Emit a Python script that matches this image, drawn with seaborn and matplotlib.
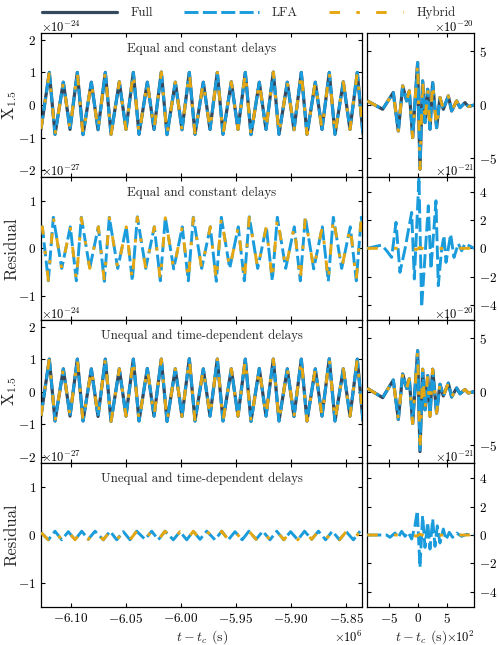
import matplotlib
matplotlib.use("Agg")
import numpy as np
import pandas as pd
import matplotlib.pyplot as plt
import matplotlib.axis as maxis
import seaborn as sns

# ---------------- data ----------------
# Left column: time in units of 1e6 s
t_x15 = [-6.12700, -6.11943, -6.11426, -6.10672, -6.10064, -6.09401, -6.08883, -6.08129,
         -6.07521, -6.06858, -6.06341, -6.05587, -6.04979, -6.04316, -6.03798, -6.03045,
         -6.02436, -6.01773, -6.01256, -6.00502, -5.99894, -5.99231, -5.98713, -5.97960,
         -5.97351, -5.96688, -5.96171, -5.95417, -5.94809, -5.94146, -5.93628, -5.92875,
         -5.92266, -5.91603, -5.91086, -5.90332, -5.89724, -5.89061, -5.88543, -5.87790,
         -5.87181, -5.86518, -5.86001, -5.85247, -5.84639, -5.83976, -5.83458]
# X_1.5 (x1e-24), equal & constant delays
x15_equal = [-0.74,
             1.00, -0.90, 0.70, -0.75, 1.00, -0.91, 0.70, -0.76,
             1.00, -0.90, 0.71, -0.75, 1.00, -0.90, 0.70, -0.75,
             1.01, -0.91, 0.70, -0.76, 1.00, -0.90, 0.70, -0.75,
             1.00, -0.90, 0.71, -0.75, 1.00, -0.91, 0.70, -0.75,
             1.01, -0.90, 0.70, -0.76, 1.00, -0.90, 0.70, -0.75,
             1.00, -0.90, 0.71, -0.75, 1.00, -0.90]
# X_1.5 (x1e-24), unequal & time-dependent delays
x15_unequal = [-0.74,
               1.00, -0.90, 0.70, -0.75, 1.00, -0.90, 0.70, -0.76,
               1.00, -0.91, 0.70, -0.75, 1.00, -0.90, 0.71, -0.75,
               1.00, -0.91, 0.70, -0.76, 1.01, -0.90, 0.70, -0.75,
               1.00, -0.90, 0.70, -0.75, 1.00, -0.91, 0.71, -0.75,
               1.00, -0.90, 0.70, -0.76, 1.00, -0.90, 0.70, -0.75,
               1.01, -0.90, 0.70, -0.75, 1.00, -0.90]

t_res_equal = [-6.12700,
               -6.12579, -6.12034, -6.11580, -6.10817, -6.10037, -6.09492, -6.09038, -6.08275,
               -6.07494, -6.06949, -6.06495, -6.05732, -6.04952, -6.04407, -6.03953, -6.03190,
               -6.02409, -6.01864, -6.01410, -6.00647, -5.99867, -5.99322, -5.98868, -5.98105,
               -5.97324, -5.96779, -5.96325, -5.95562, -5.94782, -5.94237, -5.93783, -5.93020,
               -5.92239, -5.91694, -5.91240, -5.90477, -5.89697, -5.89152, -5.88698, -5.87935,
               -5.87154, -5.86609, -5.86155, -5.85392, -5.84612, -5.84067, -5.83613, -5.82850]
# residual (x1e-27), equal & constant delays (LFA and Hybrid overlap)
res_equal_lfa = [0.40,
                 0.45, -0.68, 0.65, -0.42, 0.45, -0.68, 0.65, -0.42,
                 0.45, -0.69, 0.65, -0.42, 0.45, -0.68, 0.66, -0.42,
                 0.45, -0.68, 0.65, -0.43, 0.45, -0.68, 0.65, -0.42,
                 0.45, -0.69, 0.65, -0.42, 0.45, -0.68, 0.66, -0.42,
                 0.45, -0.68, 0.65, -0.42, 0.45, -0.68, 0.65, -0.43,
                 0.45, -0.69, 0.65, -0.42, 0.45, -0.68, 0.65, -0.42]
res_equal_hyb = [0.40,
                 0.45, -0.67, 0.64, -0.42, 0.45, -0.67, 0.64, -0.42,
                 0.45, -0.68, 0.64, -0.42, 0.45, -0.67, 0.65, -0.42,
                 0.45, -0.67, 0.64, -0.43, 0.45, -0.67, 0.64, -0.42,
                 0.45, -0.68, 0.64, -0.42, 0.45, -0.67, 0.65, -0.42,
                 0.45, -0.67, 0.64, -0.42, 0.45, -0.67, 0.64, -0.43,
                 0.45, -0.68, 0.64, -0.42, 0.45, -0.67, 0.64, -0.42]

t_res_unequal = [-6.12697,
                 -6.12034, -6.11426, -6.10817, -6.10218, -6.09610, -6.09001, -6.08402, -6.07794,
                 -6.07040, -6.06431, -6.05823, -6.05224, -6.04615, -6.04007, -6.03253, -6.02645,
                 -6.02046, -6.01437, -6.00684, -6.00075, -5.99467, -5.98868, -5.98259, -5.97651,
                 -5.96897, -5.96289, -5.95690, -5.95081, -5.94427, -5.93819, -5.93165, -5.92557,
                 -5.91903, -5.91295, -5.90641, -5.90033, -5.89379, -5.88771, -5.88117, -5.87509,
                 -5.86855, -5.86246, -5.85593, -5.84985, -5.84330, -5.83722]
# residual (x1e-27), unequal & time-dependent delays
res_unequal_lfa = [0.05,
                   -0.10, 0.08, -0.10, 0.07, -0.10, 0.08, -0.09, 0.08,
                   -0.10, 0.08, -0.10, 0.07, -0.10, 0.08, -0.09, 0.08,
                   -0.10, 0.08, -0.10, 0.07, -0.10, 0.08, -0.09, 0.08,
                   -0.10, 0.08, -0.10, 0.07, -0.10, 0.08, -0.09, 0.08,
                   -0.10, 0.08, -0.10, 0.07, -0.10, 0.08, -0.09, 0.08,
                   -0.10, 0.08, -0.10, 0.07, -0.10, 0.08]
res_unequal_hyb = res_unequal_lfa

# Right column: time in units of 1e2 s
tr_x15 = [-8.79, -6.14, -4.31, -3.44, -2.69, -2.00, -1.55, -0.97, -0.11, 0.29, 0.75, 1.16,
          1.62, 2.02, 2.48, 3.16, 3.74, 4.32, 5.18, 5.75, 6.61, 7.19, 8.05, 8.63, 9.66]
# X_1.5 burst (x1e-20)
xr_equal = [0.38, -0.40, 1.16, -2.43, 1.78, 0.38, 1.31, -3.05, 3.96, -6.00, 2.25, -1.65,
            1.47, -2.27, 2.09, -2.12, 0.69, -0.40, 0.84, -0.56, 0.38, -0.25, 0.22, -0.15, 0.00]
xr_unequal = [0.31, -0.56, 1.09, -2.59, 1.65, 0.30, 1.20, -2.96, 3.83, -5.60, 2.10, -1.70,
              1.50, -2.30, 2.10, -2.00, 0.70, -0.40, 0.80, -0.50, 0.35, -0.20, 0.20, -0.12, 0.00]

# residual burst (x1e-21), equal & constant delays, LFA
tr_res_equal = [-8.79, -6.32, -5.45, -4.59, -3.84, -3.16, -2.29, -1.14, -0.68, 0.12, 0.58,
                1.73, 2.19, 3.05, 3.45, 4.03, 4.43, 4.78, 5.58, 6.16, 6.90, 7.48, 8.05, 9.66]
rr_equal_lfa = [0.00, 0.23, -0.17, -0.64, 1.83, -1.69, -0.05, 2.53, -2.16, 5.00, -4.15,
                3.00, -1.45, 3.35, -2.63, -0.05, 0.89, -0.99, 0.99, -0.64, 0.33, -0.17, 0.33, 0.00]
# residual burst (x1e-21), unequal & time-dependent delays, LFA
tr_res_unequal = [-8.79, -5.45, -4.88, -4.02, -3.44, -2.87, -2.29, -1.72, -1.14, -0.57, -0.17,
                  0.29, 0.75, 1.16, 1.62, 2.02, 2.48, 2.88, 3.28, 3.74, 4.32, 4.78, 5.35, 5.92,
                  6.61, 7.48, 8.34, 9.66]
rr_unequal_lfa = [0.00, 0.00, -0.16, 0.14, -0.16, 0.26, -0.09, 0.19, -0.28, 0.66, 1.71,
                  -2.28, 1.36, -0.87, 0.89, -0.99, 1.13, -0.80, 0.65, -0.56, 0.42, -0.33, 0.19,
                  -0.16, 0.14, -0.09, 0.05, 0.00]
# Hybrid residual burst (x1e-21) - nearly zero
tr_res_hyb = [-8.79, -4.00, -1.50, -0.30, 0.30, 1.00, 2.00, 3.00, 5.00, 9.66]
rr_hyb = [0.00, 0.00, 0.03, -0.08, 0.06, -0.05, 0.04, -0.02, 0.00, 0.00]

series_labels = ["Full", "LFA", "Hybrid"]
panel_titles = ["Equal and constant delays", "Unequal and time-dependent delays"]
x_ticks_left = [-6.10, -6.05, -6.00, -5.95, -5.90, -5.85]
x_ticks_right = [-5, 0, 5]

# ---------------- style ----------------
sns.set_style("ticks")
plt.rcParams.update({
    "font.family": "serif",
    "font.serif": ["cmr10"],
    "mathtext.fontset": "cm",
    "axes.formatter.use_mathtext": True,
    "axes.unicode_minus": True,
    "axes.linewidth": 0.9,
    "axes.edgecolor": "black",
    "xtick.direction": "in",
    "ytick.direction": "in",
    "xtick.major.size": 3,
    "ytick.major.size": 3,
    "xtick.color": "black",
    "ytick.color": "black",
    "xtick.labelsize": 9.5,
    "ytick.labelsize": 9.5,
})
maxis.YAxis.OFFSETTEXTPAD = 0.8

C_FULL = "#34495E"
C_LFA = "#1A9BDC"
C_HYB = "#E5A711"
STY = {
    "Full": dict(color=C_FULL, linewidth=2.3, linestyle="-", zorder=2),
    "LFA": dict(color=C_LFA, linewidth=2.1, linestyle=(0, (4.8, 1.5)), zorder=3),
    "Hybrid": dict(color=C_HYB, linewidth=2.1, linestyle=(0, (3.6, 5.6, 1.2, 5.6)), zorder=4),
}


def draw(ax, t, v, tscale, vscale, name):
    df = pd.DataFrame({"t": np.asarray(t) * tscale, "v": np.asarray(v) * vscale})
    sns.lineplot(data=df, x="t", y="v", ax=ax, estimator=None, sort=False,
                 legend=False, label=name, **STY[name])


fig = plt.figure(figsize=(4.98, 6.45), dpi=100)
gs = fig.add_gridspec(4, 2, width_ratios=[321.3, 107], left=41 / 498, right=474.3 / 498,
                      top=1 - 33.3 / 645, bottom=1 - 606.7 / 645, hspace=0, wspace=0.0233)
axes = [[fig.add_subplot(gs[r, c]) for c in range(2)] for r in range(4)]

# Row 0: X_1.5 equal
a, b = axes[0]
for n in series_labels:
    draw(a, t_x15, x15_equal, 1e6, 1e-24, n)
    draw(b, tr_x15, xr_equal, 1e2, 1e-20, n)
# Row 1: residual equal
a, b = axes[1]
draw(a, t_res_equal, res_equal_lfa, 1e6, 1e-27, "LFA")
draw(a, t_res_equal, res_equal_hyb, 1e6, 1e-27, "Hybrid")
draw(b, tr_res_equal, rr_equal_lfa, 1e2, 1e-21, "LFA")
draw(b, tr_res_hyb, rr_hyb, 1e2, 1e-21, "Hybrid")
# Row 2: X_1.5 unequal
a, b = axes[2]
for n in series_labels:
    draw(a, t_x15, x15_unequal, 1e6, 1e-24, n)
    draw(b, tr_x15, xr_unequal, 1e2, 1e-20, n)
# Row 3: residual unequal
a, b = axes[3]
draw(a, t_res_unequal, res_unequal_lfa, 1e6, 1e-27, "LFA")
draw(a, t_res_unequal, res_unequal_hyb, 1e6, 1e-27, "Hybrid")
draw(b, tr_res_unequal, rr_unequal_lfa, 1e2, 1e-21, "LFA")
draw(b, tr_res_hyb, rr_hyb, 1e2, 1e-21, "Hybrid")

ylims_left = [(-2.2e-24, 2.2e-24), (-1.5e-27, 1.5e-27), (-2.2e-24, 2.2e-24), (-1.5e-27, 1.5e-27)]
yticks_left = [[-2e-24, -1e-24, 0, 1e-24, 2e-24], [-1e-27, 0, 1e-27],
               [-2e-24, -1e-24, 0, 1e-24, 2e-24], [-1e-27, 0, 1e-27]]
ylims_right = [(-6.7e-20, 6.7e-20), (-5.05e-21, 5.05e-21), (-6.7e-20, 6.7e-20), (-5.05e-21, 5.05e-21)]
yticks_right = [[-5e-20, 0, 5e-20], [-4e-21, -2e-21, 0, 2e-21, 4e-21],
                [-5e-20, 0, 5e-20], [-4e-21, -2e-21, 0, 2e-21, 4e-21]]
ylabels = [r"X$_{1.5}$", "Residual", r"X$_{1.5}$", "Residual"]

for r in range(4):
    a, b = axes[r]
    for ax in (a, b):
        ax.set_xlabel("")
        ax.set_ylabel("")
        ax.tick_params(which="both", direction="in", top=True, bottom=True, left=True,
                       right=True, width=0.8, length=3)
        for s in ax.spines.values():
            s.set_linewidth(0.9)
            s.set_color("black")
    a.set_xlim(-6.1270e6, -5.8352e6)
    a.set_xticks([v * 1e6 for v in x_ticks_left])
    b.set_xlim(-879, 966)
    b.set_xticks([v * 1e2 for v in x_ticks_right])
    a.set_ylim(*ylims_left[r])
    a.set_yticks(yticks_left[r])
    b.set_ylim(*ylims_right[r])
    b.set_yticks(yticks_right[r])
    b.yaxis.tick_right()
    b.tick_params(axis="y", left=True, right=True, labelleft=False, labelright=True)
    for ax in (a, b):
        ax.ticklabel_format(style="sci", axis="both", scilimits=(0, 0), useMathText=True,
                            useOffset=False)
        ax.yaxis.get_offset_text().set_fontsize(9)
        ax.xaxis.get_offset_text().set_fontsize(9)
    b.yaxis.set_offset_position("right")
    a.set_ylabel(ylabels[r], fontsize=12)
    a.yaxis.set_label_coords(-0.068, 0.5)
    if r < 3:
        for ax in (a, b):
            ax.tick_params(axis="x", labelbottom=False)
            ax.xaxis.get_offset_text().set_visible(False)
    else:
        for ax in (a, b):
            ax.set_xlabel(r"$t - t_c$ (s)", fontsize=10, labelpad=2)
    title = panel_titles[0] if r in (0, 1) else panel_titles[1]
    a.text(0.5, 0.935, title, transform=a.transAxes, ha="center", va="top", fontsize=9.3)

handles, labels = axes[0][0].get_legend_handles_labels()
fig.legend(handles[:3], labels[:3], loc="center", bbox_to_anchor=(0.5, 1 - 13 / 645),
           ncol=3, frameon=False, handlelength=5.8, handletextpad=1.0,
           columnspacing=2.4, fontsize=9.3)

fig.savefig("out.png", dpi=100)
